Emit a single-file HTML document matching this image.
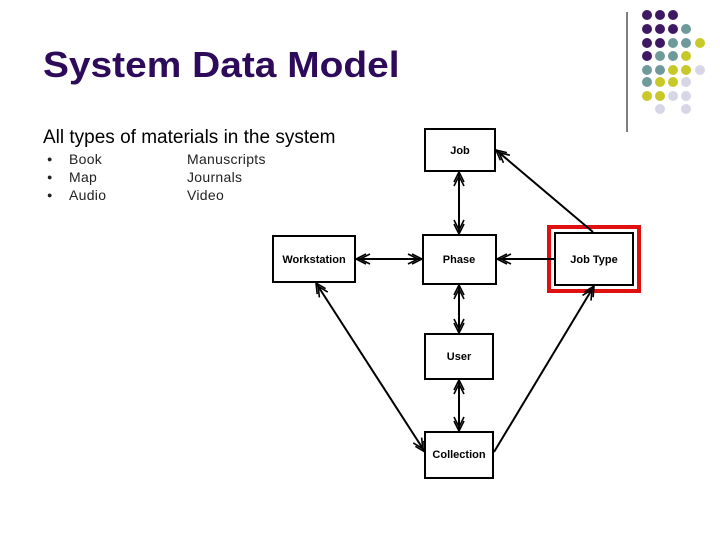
<!DOCTYPE html>
<html><head><style>
body{margin:0;width:720px;height:540px;background:#fff;overflow:hidden;position:relative;font-family:"Liberation Sans",sans-serif}
.t{position:absolute;left:43px;top:44px;font-size:36px;font-weight:bold;color:#2d0b5a;transform:scaleX(1.08);transform-origin:0 0;white-space:nowrap}
.s{position:absolute;left:43px;top:127px;font-size:19px;color:#000}
.l{position:absolute;font-size:14px;color:#222;line-height:18px;letter-spacing:0.3px}
</style></head><body>
<div class="t">System Data Model</div>
<div class="s">All types of materials in the system</div>
<div class="l" style="left:47px;top:150px;font-size:9px;line-height:18px">●<br>●<br>●</div>
<div class="l" style="left:69px;top:150px">Book<br>Map<br>Audio</div>
<div class="l" style="left:187px;top:150px">Manuscripts<br>Journals<br>Video</div>
<svg width="720" height="540" style="position:absolute;left:0;top:0">
<defs>
<marker id="a" viewBox="0 0 16 12" refX="15" refY="6" markerWidth="16" markerHeight="12" markerUnits="userSpaceOnUse" orient="auto-start-reverse">
<path d="M5 1 L15 6 L5 11 M1 1 L11 6 L1 11" fill="none" stroke="#000" stroke-width="1.6"/>
</marker>
</defs>
<line x1="627" y1="12" x2="627" y2="132" stroke="#000" stroke-width="1"/>
<g>
<circle cx="647" cy="15" r="5" fill="#3f1863"/><circle cx="660" cy="15" r="5" fill="#3f1863"/><circle cx="673" cy="15" r="5" fill="#3f1863"/>
<circle cx="647" cy="29" r="5" fill="#3f1863"/><circle cx="660" cy="29" r="5" fill="#3f1863"/><circle cx="673" cy="29" r="5" fill="#3f1863"/><circle cx="686" cy="29" r="5" fill="#6f9a9a"/>
<circle cx="647" cy="43" r="5" fill="#3f1863"/><circle cx="660" cy="43" r="5" fill="#3f1863"/><circle cx="673" cy="43" r="5" fill="#6f9a9a"/><circle cx="686" cy="43" r="5" fill="#6f9a9a"/><circle cx="700" cy="43" r="5" fill="#c8c828"/>
<circle cx="647" cy="56" r="5" fill="#3f1863"/><circle cx="660" cy="56" r="5" fill="#6f9a9a"/><circle cx="673" cy="56" r="5" fill="#6f9a9a"/><circle cx="686" cy="56" r="5" fill="#c8c828"/>
<circle cx="647" cy="70" r="5" fill="#6f9a9a"/><circle cx="660" cy="70" r="5" fill="#6f9a9a"/><circle cx="673" cy="70" r="5" fill="#c8c828"/><circle cx="686" cy="70" r="5" fill="#c8c828"/><circle cx="700" cy="70" r="5" fill="#d6d6e6"/>
<circle cx="647" cy="82" r="5" fill="#6f9a9a"/><circle cx="660" cy="82" r="5" fill="#c8c828"/><circle cx="673" cy="82" r="5" fill="#c8c828"/><circle cx="686" cy="82" r="5" fill="#d6d6e6"/>
<circle cx="647" cy="96" r="5" fill="#c8c828"/><circle cx="660" cy="96" r="5" fill="#c8c828"/><circle cx="673" cy="96" r="5" fill="#d6d6e6"/><circle cx="686" cy="96" r="5" fill="#d6d6e6"/>
<circle cx="660" cy="109" r="5" fill="#d6d6e6"/><circle cx="686" cy="109" r="5" fill="#d6d6e6"/>
</g>
<g fill="#fff" stroke="#000" stroke-width="2">
<rect x="425" y="129" width="70" height="42"/>
<rect x="273" y="236" width="82" height="46"/>
<rect x="423" y="235" width="73" height="49"/>
<rect x="555" y="233" width="78" height="52"/>
<rect x="425" y="334" width="68" height="45"/>
<rect x="425" y="432" width="68" height="46"/>
</g>
<rect x="549" y="227" width="90" height="64" fill="none" stroke="#e01010" stroke-width="4"/>
<g font-size="11" font-weight="bold" text-anchor="middle" fill="#000">
<text x="460" y="154">Job</text>
<text x="314" y="263">Workstation</text>
<text x="459" y="263">Phase</text>
<text x="594" y="263">Job Type</text>
<text x="459" y="360">User</text>
<text x="459" y="458">Collection</text>
</g>
<g stroke="#000" stroke-width="2" fill="none">
<line x1="459" y1="172" x2="459" y2="234" marker-start="url(#a)" marker-end="url(#a)"/>
<line x1="356" y1="259" x2="422" y2="259" marker-start="url(#a)" marker-end="url(#a)"/>
<line x1="555" y1="259" x2="497" y2="259" marker-end="url(#a)"/>
<line x1="593" y1="232" x2="496" y2="150" marker-end="url(#a)"/>
<line x1="459" y1="285" x2="459" y2="333" marker-start="url(#a)" marker-end="url(#a)"/>
<line x1="459" y1="380" x2="459" y2="431" marker-start="url(#a)" marker-end="url(#a)"/>
<line x1="316" y1="283" x2="425" y2="452" marker-start="url(#a)" marker-end="url(#a)"/>
<line x1="494" y1="452" x2="594" y2="286" marker-end="url(#a)"/>
</g>
</svg>
</body></html>
